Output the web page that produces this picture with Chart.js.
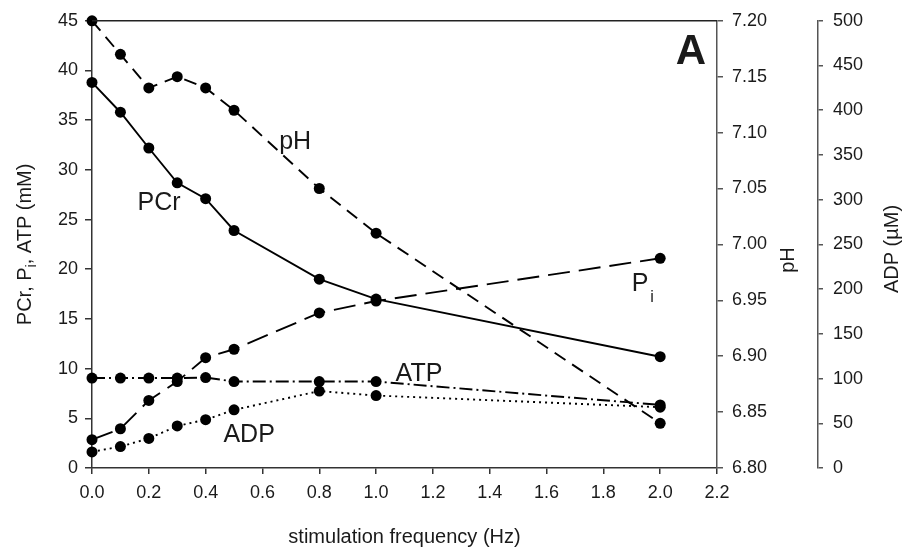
<!DOCTYPE html>
<html lang="en">
<head>
    <meta charset="UTF-8">
    <title>stimulation frequency</title>
    <script src="https://cdn.jsdelivr.net/npm/chart.js@4.4.0/dist/chart.umd.min.js"></script>
    <style>
        body { margin: 0; background: #fff; }
    </style>
</head>
<body>
    <canvas id="myChart" width="919" height="552"></canvas>
    <script>
        // values
        var freq = [0, 0.1, 0.2, 0.3, 0.4, 0.5, 0.8, 1.0, 2.0];
        var pcr = [38.8, 35.8, 32.2, 28.7, 27.1, 23.9, 19.0, 17.0, 11.2];
        var pi = [2.85, 3.95, 6.8, 8.7, 11.1, 11.95, 15.6, 16.8, 21.1];
        var atp = [9.05, 9.05, 9.05, 9.05, 9.1, 8.7, 8.7, 8.7, 6.35];
        var ph = [7.20, 7.17, 7.14, 7.15, 7.14, 7.12, 7.05, 7.01, 6.84];
        var adp = [18, 24, 33, 47, 54, 65, 86, 81, 68];

        var xTicks = [0, 0.2, 0.4, 0.6, 0.8, 1.0, 1.2, 1.4, 1.6, 1.8, 2.0, 2.2];

        var FONT = '"Liberation Sans", Arial, sans-serif';
        var INK = '#1a1a1a';

        function pts(ys) {
            return freq.map(function (f, i) { return { x: f, y: ys[i] }; });
        }

        function series(label, ys, axis, dash) {
            return {
                label: label,
                data: pts(ys),
                yAxisID: axis,
                borderColor: '#000',
                backgroundColor: '#000',
                borderWidth: 1.9,
                borderDash: dash,
                pointRadius: 5.5,
                pointHoverRadius: 5.5,
                pointBorderWidth: 0,
                tension: 0,
                clip: false
            };
        }

        // labels written inside the plot, in data units
        var notes = [
            { text: 'PCr', x: 0.236, y: 26.75 },
            { text: 'pH', x: 0.715, y: 32.9 },
            { text: 'ATP', x: 1.151, y: 9.58 },
            { text: 'ADP', x: 0.553, y: 3.39 }
        ];

        var decor = {
            id: 'decor',
            afterDraw: function (chart) {
                var c = chart.ctx;
                var a = chart.chartArea;
                var sx = chart.scales.x, sy = chart.scales.y;
                var sPh = chart.scales.yPH, sAdp = chart.scales.yADP;
                c.save();

                // top frame line
                c.strokeStyle = '#222';
                c.lineWidth = 1.5;
                c.beginPath();
                c.moveTo(a.left, a.top);
                c.lineTo(a.right, a.top);
                c.stroke();

                c.fillStyle = INK;
                c.textBaseline = 'middle';
                c.textAlign = 'center';

                c.font = '25px ' + FONT;
                notes.forEach(function (n) {
                    c.fillText(n.text, sx.getPixelForValue(n.x), sy.getPixelForValue(n.y) + 1);
                });

                // P with subscript i
                var px = sx.getPixelForValue(1.929), py = sy.getPixelForValue(18.56);
                c.fillText('P', px, py + 1);
                c.font = '16px ' + FONT;
                c.fillText('i', px + 12, py + 14);

                c.font = 'bold 42px ' + FONT;
                c.fillText('A', sx.getPixelForValue(2.108), sy.getPixelForValue(42.0) + 2);

                // x title
                c.font = '20px ' + FONT;
                c.fillText('stimulation frequency (Hz)', (a.left + a.right) / 2, 537);

                // pH title
                c.save();
                c.translate(sPh.left + 71, 260);
                c.rotate(-Math.PI / 2);
                c.fillText('pH', 0, 0);
                c.restore();

                // ADP title
                c.save();
                c.translate(sAdp.left + 74, 249);
                c.rotate(-Math.PI / 2);
                c.fillText('ADP (\u00b5M)', 0, 0);
                c.restore();

                // left title with subscript
                c.save();
                c.translate(25, (a.top + a.bottom) / 2);
                c.rotate(-Math.PI / 2);
                var big = '20px ' + FONT, small = '14px ' + FONT;
                var p1 = 'PCr, P', p2 = 'i', p3 = ', ATP (mM)';
                c.font = big;
                var w1 = c.measureText(p1).width, w3 = c.measureText(p3).width;
                c.font = small;
                var w2 = c.measureText(p2).width;
                var x0 = -(w1 + w2 + w3) / 2;
                c.textAlign = 'left';
                c.font = big;
                c.fillText(p1, x0, 0);
                c.font = small;
                c.fillText(p2, x0 + w1, 7);
                c.font = big;
                c.fillText(p3, x0 + w1 + w2, 0);
                c.restore();

                c.restore();
            }
        };

        function axisBase(color) {
            return {
                grid: { drawOnChartArea: false, drawTicks: true, tickLength: 6, color: color, lineWidth: 1.5 },
                border: { display: true, color: color, width: 1.5 },
                ticks: { color: INK, font: { family: FONT, size: 18 } }
            };
        }

        var xAxis = axisBase('#333');
        xAxis.type = 'linear';
        xAxis.position = 'bottom';
        xAxis.min = 0;
        xAxis.max = 2.2;
        xAxis.afterBuildTicks = function (s) { s.ticks = xTicks.map(function (v) { return { value: v }; }); };
        xAxis.ticks.callback = function (v) { return v.toFixed(1); };
        xAxis.ticks.padding = 8;
        xAxis.ticks.maxRotation = 0;
        xAxis.afterFit = function (s) { s.height = 84; };

        var yAxis = axisBase('#333');
        yAxis.position = 'left';
        yAxis.min = 0;
        yAxis.max = 45;
        yAxis.ticks.stepSize = 5;
        yAxis.ticks.padding = 7;
        yAxis.grid.tickLength = 7;
        yAxis.afterFit = function (s) { s.width = 92; };

        var phAxis = axisBase('#555');
        phAxis.position = 'right';
        phAxis.weight = 1;
        phAxis.min = 6.8;
        phAxis.max = 7.2;
        phAxis.ticks.stepSize = 0.05;
        phAxis.ticks.padding = 9;
        phAxis.ticks.callback = function (v) { return v.toFixed(2); };
        phAxis.afterFit = function (s) { s.width = 101; };

        var adpAxis = axisBase('#555');
        adpAxis.position = 'right';
        adpAxis.weight = 2;
        adpAxis.min = 0;
        adpAxis.max = 500;
        adpAxis.ticks.stepSize = 50;
        adpAxis.ticks.padding = 10;
        adpAxis.grid.tickLength = 5;
        adpAxis.afterFit = function (s) { s.width = 101; };

        var ctx = document.getElementById('myChart');
        var myChart = new Chart(ctx, {
            type: 'line',
            data: {
                datasets: [
                    series('PCr', pcr, 'y', []),
                    series('pH', ph, 'yPH', [13, 8]),
                    series('Pi', pi, 'y', [22, 9]),
                    series('ATP', atp, 'y', [13, 4, 2, 4]),
                    series('ADP', adp, 'yADP', [2, 4])
                ]
            },
            options: {
                responsive: false,
                devicePixelRatio: 1,
                animation: false,
                layout: { padding: { top: 17, right: 0, bottom: 0, left: 0 } },
                plugins: {
                    legend: { display: false },
                    tooltip: { enabled: false }
                },
                scales: {
                    x: xAxis,
                    y: yAxis,
                    yPH: phAxis,
                    yADP: adpAxis
                }
            },
            plugins: [decor]
        });
    </script>
</body>
</html>
